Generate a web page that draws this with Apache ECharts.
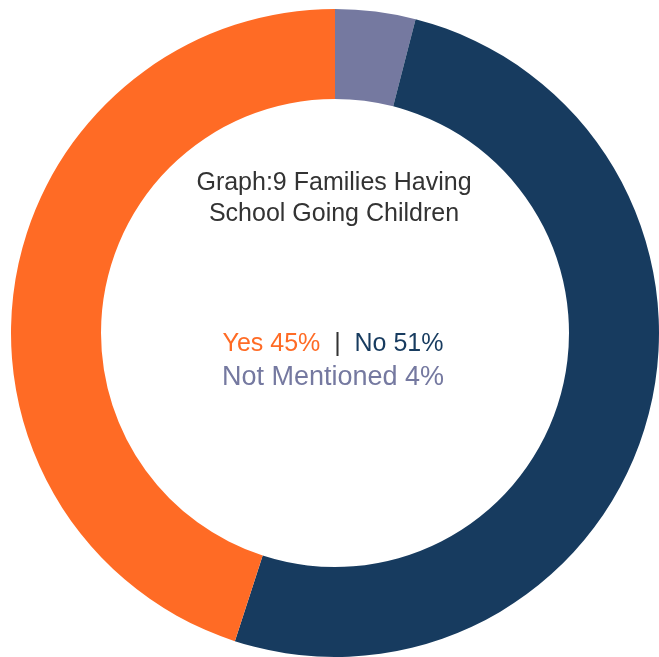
<!DOCTYPE html>
<html>
<head>
<meta charset="utf-8">
<script src="https://cdn.jsdelivr.net/npm/echarts@6/dist/echarts.min.js"></script>
<style>
  html, body { margin: 0; padding: 0; background: #fff; }
  #chart { width: 659px; height: 657px; }
</style>
</head>
<body>
<div id="chart"></div>
<script>
// Share of families with school-going children
const categories = ['Not Mentioned', 'No', 'Yes'];
const values = [4, 51, 45];
const colors = ['#7579a0', '#173b5f', '#ff6b25'];
const titleLines = ['Graph:9 Families Having', 'School Going Children'];

const chart = echarts.init(document.getElementById('chart'));
const FONT = 'Liberation Sans, Arial, sans-serif';
const SIZE = 25;

const val = name => values[categories.indexOf(name)];
const richStyle = (color, size) => ({ color: color, fontFamily: FONT, fontSize: size || SIZE, fontWeight: 'normal' });

chart.setOption({
  animation: false,
  title: [
    {
      text: titleLines.join('\n'),
      left: 334, top: 168, textAlign: 'center', padding: 0,
      textStyle: { fontFamily: FONT, fontSize: SIZE, fontWeight: 'normal', color: '#333', lineHeight: 31 }
    },
    {
      text: '{yes|Yes ' + val('Yes') + '%}{sep|  |  }{no|No ' + val('No') + '%}\n{nm|Not Mentioned ' + val('Not Mentioned') + '%}',
      left: 333, top: 328, textAlign: 'center', padding: 0,
      textStyle: {
        fontFamily: FONT, fontSize: SIZE, fontWeight: 'normal', lineHeight: 33,
        rich: {
          yes: richStyle(colors[2]),
          sep: richStyle('#333'),
          no: richStyle(colors[1]),
          nm: richStyle(colors[0], 27)
        }
      }
    }
  ],
  series: [{
    type: 'pie',
    center: [335, 333],
    radius: [234, 324],
    startAngle: 90,
    clockwise: true,
    label: { show: false },
    labelLine: { show: false },
    itemStyle: { borderWidth: 0 },
    emphasis: { disabled: true },
    data: categories.map((c, i) => ({ name: c, value: values[i], itemStyle: { color: colors[i] } }))
  }]
});
</script>
</body>
</html>
